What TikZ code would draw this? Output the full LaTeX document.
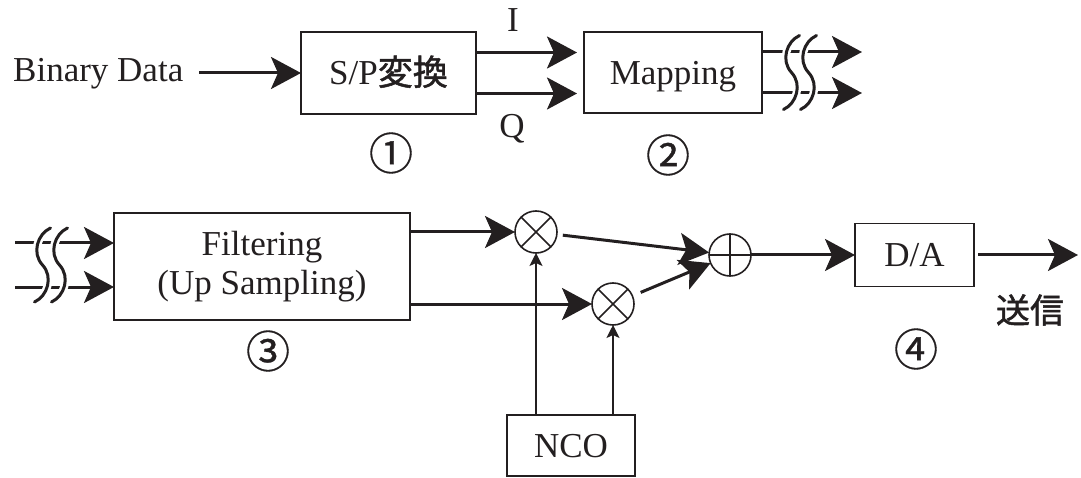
\documentclass[tikz,border=0pt]{standalone}
\usepackage{fontspec}
\setmainfont{Liberation Serif}
\newfontfamily\jpfont[FakeBold=1.4]{Noto Sans CJK JP}
\newfontfamily\numfont[FakeBold=0.8]{Noto Sans CJK JP}
\usetikzlibrary{arrows.meta,calc}
\definecolor{ink}{RGB}{35,31,32}
\tikzset{
  box/.style={draw=ink, line width=1.6pt, inner sep=0pt, outer sep=0pt, align=center},
  onebox/.style={box, text height=24pt, text depth=0pt},
  sig/.style={draw=ink, line width=3pt, -{Stealth[length=30pt,width=32pt,inset=7pt]}},
  lo/.style={draw=ink, line width=1.5pt, -{Stealth[length=13pt,width=13pt,inset=3pt]}},
  mix/.style={circle, draw=ink, line width=1.6pt, minimum size=42pt, inner sep=0pt, outer sep=0pt},
  num/.style={font=\numfont\fontsize{44}{44}\selectfont, inner sep=0pt},
  % double wavy break mark across a pair of signal lines
  brk/.pic={
    \foreach \dx in {-8.5,8.5} {
      \draw[white, line width=8pt]
        (\dx+8,-37) .. controls (\dx-5,-31) and (\dx-11,-12) .. (\dx,0)
        .. controls (\dx+11,12) and (\dx+5,31) .. (\dx-8,37);
      \draw[ink, line width=3pt, line cap=round]
        (\dx+8,-37) .. controls (\dx-5,-31) and (\dx-11,-12) .. (\dx,0)
        .. controls (\dx+11,12) and (\dx+5,31) .. (\dx-8,37);
    }
  }
}
\begin{document}
\begin{tikzpicture}[x=1pt,y=-1pt, font=\fontsize{35}{39}\selectfont, text=ink]
\useasboundingbox (0,0) rectangle (1081,478);

% ---- transmitter front end: S/P conversion and mapping
\node[anchor=base west, inner sep=0pt] (bin) at (13,82) {Binary Data};
\node[onebox, minimum width=175pt, minimum height=82pt] (sp) at (388.5,73) {S/P{\jpfont 変換}};
\node[onebox, minimum width=178pt, minimum height=81pt] (map) at (673,72.5) {Mapping};
\draw[sig, shorten <=16pt] (bin.east |- sp.west) -- (sp.west);

\coordinate (spI) at ($(sp.north east)!0.25!(sp.south east)$);
\coordinate (spQ) at ($(sp.north east)!0.75!(sp.south east)$);
\draw[sig, shorten >=7pt] (spI) -- (spI -| map.west);
\draw[sig, shorten >=7pt] (spQ) -- (spQ -| map.west);
\node[anchor=base, inner sep=0pt] (lI) at (513,32) {I};
\node[anchor=base, inner sep=0pt] (lQ) at (512,138) {Q};
\node[num] (n1) at (391,153) {①};
\node[num] (n2) at (668,155) {②};

\coordinate (o1) at (862,52);
\coordinate (o2) at (862,93);
\draw[sig] (o1 -| map.east) -- (o1);
\draw[sig] (o2 -| map.east) -- (o2);
\pic at (800,72.5) {brk};

% ---- filtering, quadrature modulation, D/A
\node[box, minimum width=296pt, minimum height=107pt] (flt) at (262,266.5) {Filtering\\(Up Sampling)};
\coordinate (i1) at (15,243);
\coordinate (i2) at (15,287);
\draw[sig] (i1) -- (i1 -| flt.west);
\draw[sig] (i2) -- (i2 -| flt.west);
\pic at (51,265) {brk};

\node[mix] (m1) at (536,232) {};
\node[mix] (m2) at (613,304) {};
\node[mix] (add) at (730,255) {};
\draw[ink, line width=1.6pt]
  (m1.north east) -- (m1.south west) (m1.north west) -- (m1.south east)
  (m2.north east) -- (m2.south west) (m2.north west) -- (m2.south east)
  (add.north) -- (add.south) (add.west) -- (add.east);

\draw[sig] (m1 -| flt.east) -- (m1);
\draw[sig] (m2 -| flt.east) -- (m2);
\draw[sig, shorten <=6pt] (m1) -- (add);
\draw[sig, shorten <=9pt] (m2) -- (add);

\node[onebox, minimum width=119pt, minimum height=63pt] (da) at (914.5,255) {D/A};
\draw[sig] (add) -- (da);
\coordinate (out) at (1078,255);
\draw[sig, shorten <=4pt] (da) -- (out);
\node[font=\jpfont\fontsize{34}{34}\selectfont, inner sep=0pt] (tx) at (1030,310) {送信};

\node[num] (n3) at (268,351) {③};
\node[num] (n4) at (916,349) {④};

\node[onebox, minimum width=128pt, minimum height=61pt] (nco) at (571,445.5) {NCO};
\draw[lo] (m1 |- nco.north) -- (m1);
\draw[lo] (m2 |- nco.north) -- (m2);
\end{tikzpicture}
\end{document}
